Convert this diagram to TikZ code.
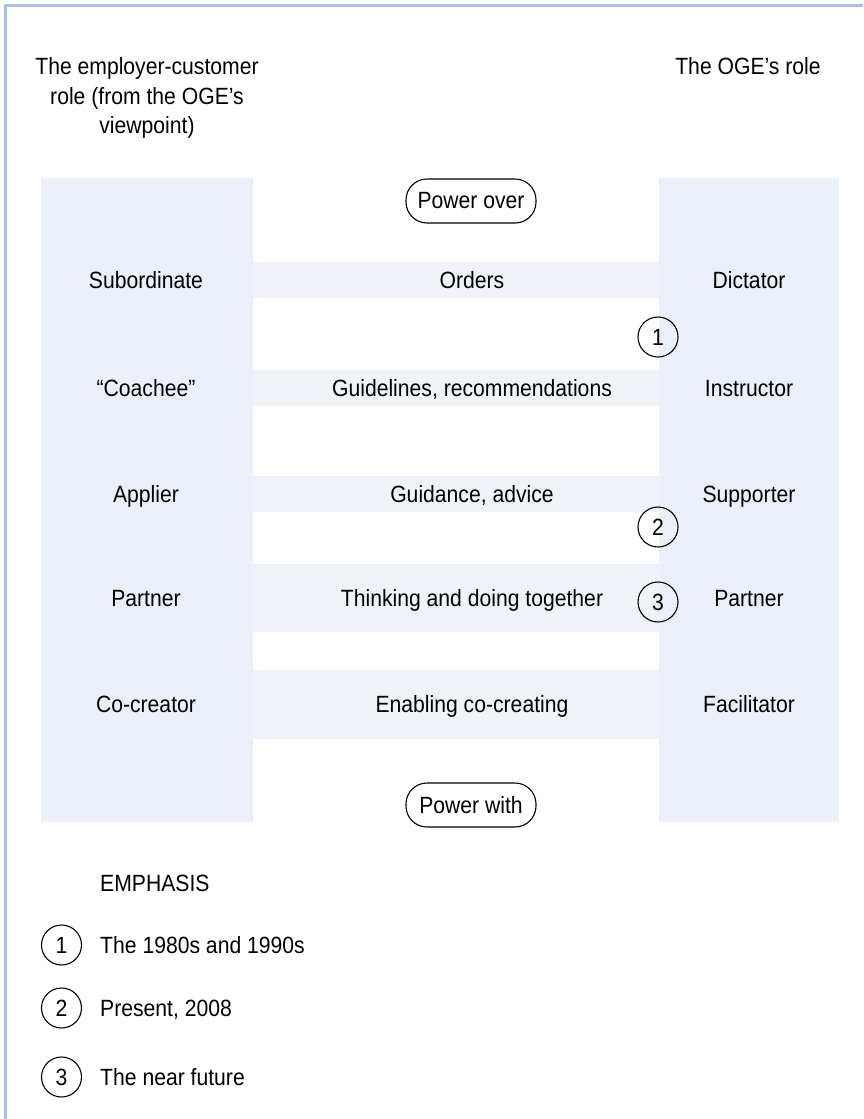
\documentclass[tikz,border=0pt]{standalone}
\usepackage{fontspec}
\setmainfont{Liberation Sans}[FakeStretch=0.9]
\definecolor{frameblue}{RGB}{165,193,230}
\definecolor{panelblue}{RGB}{234,239,249}
\definecolor{bandgrey}{RGB}{239,242,247}
\newcommand{\lblfont}{\fontsize{23.5}{30}\selectfont}
\begin{document}
\begin{tikzpicture}[x=1pt,y=-1pt,
  lbl/.style={font=\lblfont, inner sep=0pt, anchor=base},
  lefttxt/.style={lbl, anchor=base west},
  panel/.style={fill=panelblue, draw=none},
  band/.style={fill=bandgrey, draw=none},
  pill/.style={draw, line width=1.1pt, rounded corners=21pt, minimum width=130pt,
    minimum height=44pt, inner sep=0pt, font=\lblfont},
  num/.style={draw, circle, line width=1.1pt, minimum size=40pt, inner sep=0pt,
    font=\lblfont}]
\useasboundingbox (0,0) rectangle (863,1119);
\fill[white] (0,0) rectangle (863,1119);
% frame rules along the top and left edge
\draw[frameblue, line width=3pt] (5.5,1119) -- (5.5,5.5) -- (863,5.5);

% role columns
\fill[panel] (41,178) rectangle (253,822);
\fill[panel] (659,178) rectangle (839,822);

% interaction bands between the columns
\fill[band] (253,262) rectangle (659,298);
\fill[band] (253,370) rectangle (659,406);
\fill[band] (253,476) rectangle (659,512);
\fill[band] (253,564) rectangle (659,632);
\fill[band] (253,670) rectangle (659,739);

% column headings
\node[lbl] (hl1) at (147,74) {The employer-customer};
\node[lbl] (hl2) at (147,104) {role (from the OGE’s};
\node[lbl] (hl3) at (147,133) {viewpoint)};
\node[lbl] (hr)  at (748,74) {The OGE’s role};

% power scale
\node[pill] (pover) at (471,201) {Power over};
\node[pill] (pwith) at (471,805) {Power with};

% rows
\node[lbl] (c1) at (146,288) {Subordinate};
\node[lbl] (m1) at (472,288) {Orders};
\node[lbl] (r1) at (749,288) {Dictator};

\node[lbl] (c2) at (146,396) {“Coachee”};
\node[lbl] (m2) at (472,396) {Guidelines, recommendations};
\node[lbl] (r2) at (749,396) {Instructor};

\node[lbl] (c3) at (146,502) {Applier};
\node[lbl] (m3) at (472,502) {Guidance, advice};
\node[lbl] (r3) at (749,502) {Supporter};

\node[lbl] (c4) at (146,606) {Partner};
\node[lbl] (m4) at (472,606) {Thinking and doing together};
\node[lbl] (r4) at (749,606) {Partner};

\node[lbl] (c5) at (146,712) {Co-creator};
\node[lbl] (m5) at (472,712) {Enabling co-creating};
\node[lbl] (r5) at (749,712) {Facilitator};

% period markers
\node[num] (e1) at (658,337) {1};
\node[num] (e2) at (658,527) {2};
\node[num] (e3) at (658,602) {3};

% legend
\node[lefttxt] (emph) at (100,891) {EMPHASIS};
\node[num] (k1) at (61.5,945) {1};
\node[num] (k2) at (61.5,1008) {2};
\node[num] (k3) at (61.5,1077) {3};
\node[lefttxt] (t1) at (100,953) {The 1980s and 1990s};
\node[lefttxt] (t2) at (100,1016) {Present, 2008};
\node[lefttxt] (t3) at (100,1085) {The near future};
\end{tikzpicture}
\end{document}
